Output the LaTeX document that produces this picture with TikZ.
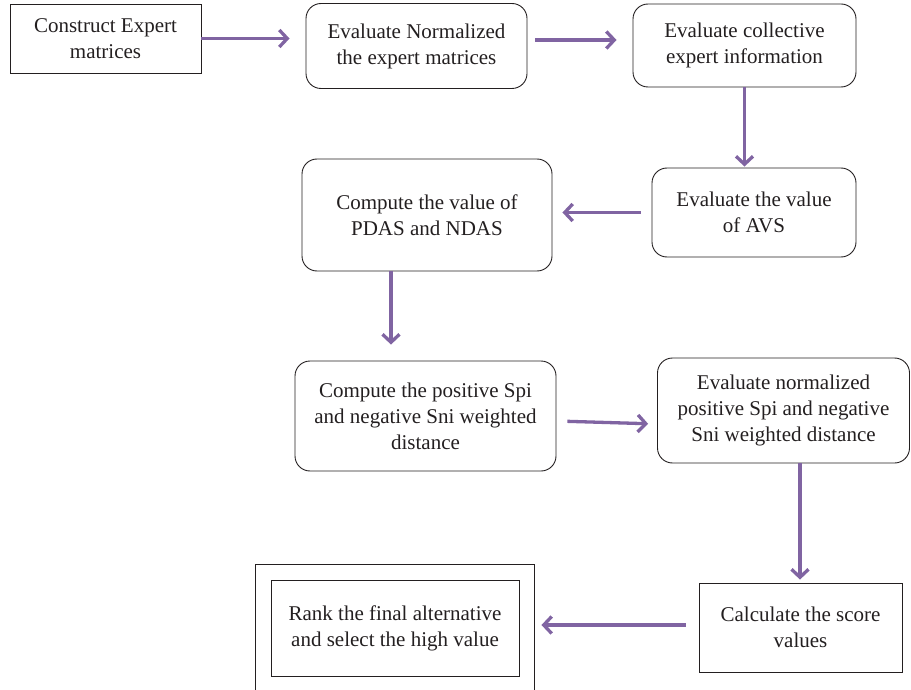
\documentclass[tikz,border=0pt]{standalone}
\usepackage{fontspec}
\setmainfont{Liberation Serif}
\usepackage{xcolor}
\usetikzlibrary{arrows.meta}
\definecolor{flowPurple}{HTML}{8064A2}
\definecolor{textGrey}{HTML}{231F20}

\begin{document}
\begin{tikzpicture}
[x=1pt, y=1pt,
 lineDecorate/.style={-{Straight Barb[length=8pt,width=17pt]},line width=3.3pt,flowPurple},
 nodeDecorate/.style={shape=rectangle,draw=textGrey,line width=0.9pt,align=center,inner sep=0pt,text=textGrey,font=\fontsize{21}{26}\selectfont},
 roundDecorate/.style={nodeDecorate,rounded corners=15pt}]

\useasboundingbox (0,0) rectangle (911,-690);
\clip (0,0) rectangle (911,-690);

 \foreach \nodename/\x/\y/\w/\h/\txt in {
NormMat/416.5/-46/221/85/Evaluate Normalized\\the expert matrices,
CollInfo/744.5/-45.5/223/83/Evaluate collective\\expert information,
AVS/754/-212.5/204/89/Evaluate the value\\of AVS,
PdasNdas/427/-215/250/112/Compute the value of\\PDAS and NDAS,
WDist/425.5/-416/261/110/Compute the positive Spi\\and negative Sni weighted\\distance,
NormDist/783.5/-410.5/252/105/Evaluate normalized\\positive Spi and negative\\Sni weighted distance
 }
 {
          \node (\nodename) at (\x,\y) [roundDecorate, minimum width=\w pt, minimum height=\h pt] {\txt};
 }

 \foreach \nodename/\x/\y/\w/\h/\txt in {
ExpMat/105.5/-38.5/191/69/Construct Expert\\matrices,
Score/800.5/-627.5/203/89/Calculate the score\\values,
Rank/395/-628/248/96/Rank the final alternative\\and select the high value,
RankOut/394.5/-634/279/140/{}
 }
 {
          \node (\nodename) at (\x,\y) [nodeDecorate, minimum width=\w pt, minimum height=\h pt] {\txt};
 }

\path
(ExpMat.east) edge[lineDecorate, shorten >=16pt] (ExpMat.east -| NormMat.west)
([yshift=6pt]NormMat.east) edge[lineDecorate, shorten <=8pt, shorten >=16pt] ([yshift=6pt]NormMat.east -| CollInfo.west)
(CollInfo.south) edge[lineDecorate, shorten >=1pt] (CollInfo.south |- AVS.north)
(AVS.west) edge[lineDecorate, shorten <=11pt, shorten >=10pt] (AVS.west -| PdasNdas.east)
([xshift=-36pt]PdasNdas.south) edge[lineDecorate, shorten >=16pt] ([xshift=-36pt]PdasNdas.south |- WDist.north)
([yshift=-5pt]WDist.east) edge[lineDecorate, shorten <=11pt, shorten >=9pt] ([yshift=-13.5pt]NormDist.west)
([xshift=16.5pt]NormDist.south) edge[lineDecorate, shorten >=3pt] ([xshift=16.5pt]NormDist.south |- Score.north)
([yshift=2.5pt]Score.west) edge[lineDecorate, shorten <=13pt, shorten >=7pt] ([yshift=2.5pt]Score.west -| RankOut.east);
        \end{tikzpicture}
\end{document}
